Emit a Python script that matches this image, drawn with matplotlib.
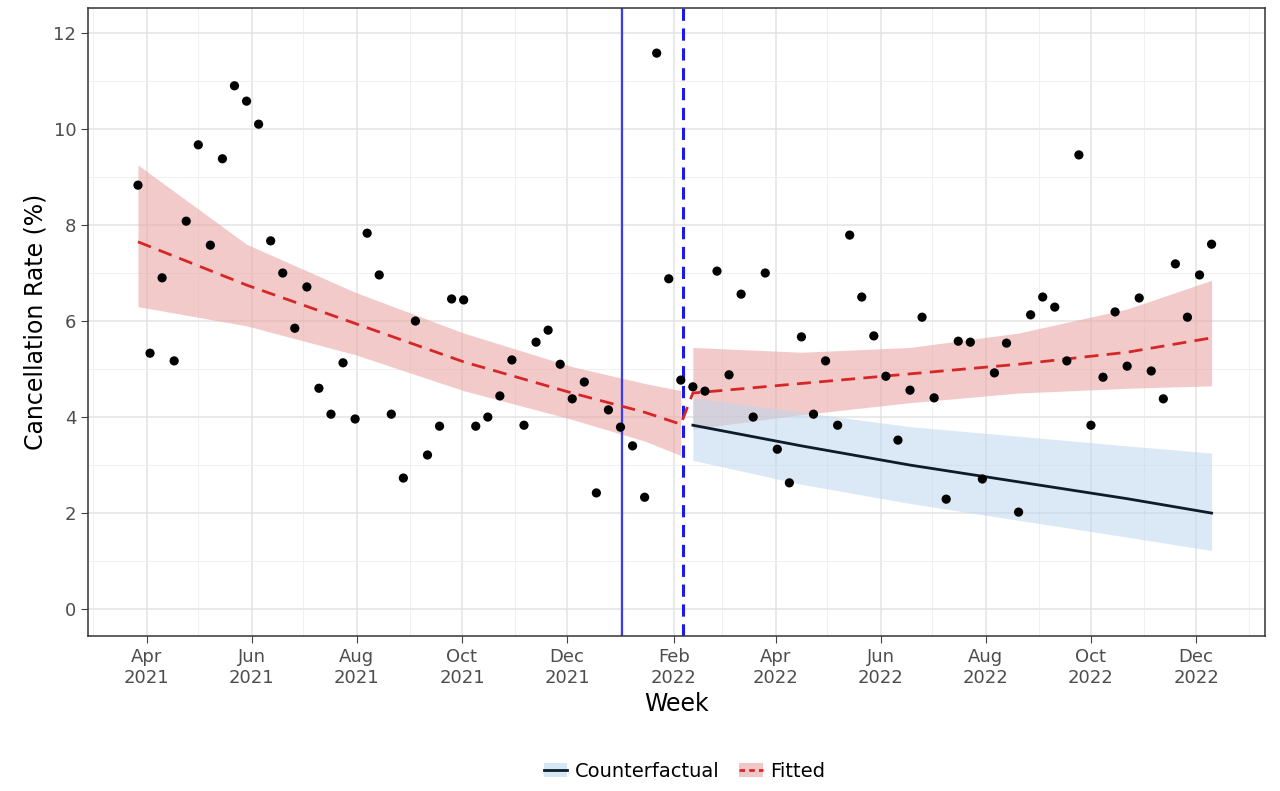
import numpy as np
import pandas as pd
import matplotlib
matplotlib.use("Agg")
import matplotlib.pyplot as plt
import matplotlib.dates as mdates
from matplotlib.patches import Patch
from matplotlib.lines import Line2D

# weekly cancellation rates (%), starting week of 2021-03-27
rates = [8.83, 5.33, 6.90, 5.17, 8.08, 9.67, 7.58, 9.38, 10.90, 10.58,
         10.10, 7.67, 7.00, 5.85, 6.71, 4.60, 4.06, 5.13, 3.96, 7.83,
         6.96, 4.06, 2.73, 6.00, 3.21, 3.81, 6.46, 6.44, 3.81, 4.00,
         4.44, 5.19, 3.83, 5.56, 5.81, 5.10, 4.38, 4.73, 2.42, 4.15,
         3.79, 3.40, 2.33, 11.58,
         6.88, 4.77, 4.63, 4.54, 7.04, 4.88, 6.56, 4.00, 7.00, 3.33,
         2.63, 5.67, 4.06, 5.17, 3.83, 7.79, 6.50, 5.69, 4.85, 3.52,
         4.56, 6.08, 4.40, 2.29, 5.58, 5.56, 2.71, 4.92, 5.54, 2.02,
         6.13, 6.50, 6.29, 5.17, 9.46, 3.83, 4.83, 6.19, 5.06, 6.48,
         4.96, 4.38, 7.19, 6.08, 6.96, 7.60]
weeks = pd.date_range("2021-03-27", periods=len(rates), freq="7D")

# fitted model before the intervention (week index, fit, lower, upper)
pre_idx = [0, 9, 18, 27, 36, 42, 45]
pre_fit = [7.65, 6.75, 5.95, 5.15, 4.50, 4.10, 3.85]
pre_lo = [6.30, 5.90, 5.30, 4.55, 3.95, 3.50, 3.20]
pre_hi = [9.25, 7.60, 6.60, 5.75, 5.05, 4.70, 4.55]

# after the intervention
post_idx = [46, 55, 64, 73, 82, 89]
post_fit = [4.50, 4.70, 4.90, 5.10, 5.35, 5.65]
post_lo = [3.75, 4.05, 4.30, 4.50, 4.60, 4.65]
post_hi = [5.45, 5.35, 5.45, 5.75, 6.25, 6.85]
cf_fit = [3.83, 3.40, 3.00, 2.65, 2.30, 2.00]
cf_lo = [3.10, 2.60, 2.20, 1.85, 1.50, 1.22]
cf_hi = [4.40, 4.10, 3.80, 3.60, 3.40, 3.25]

event_solid = pd.Timestamp("2022-01-02")
event_dashed = pd.Timestamp("2022-02-06")

RED = "#d62728"
BAND_RED = "#e8a0a0"
BAND_BLUE = "#bcd7ee"
NAVY = "#0d1b2a"

fig = plt.figure(figsize=(12.8, 7.91), dpi=100)
ax = fig.add_axes([88 / 1280, 1 - 636 / 791, (1265 - 88) / 1280, (636 - 8) / 791])

pre_d = weeks[pre_idx]
post_d = weeks[post_idx]
ax.fill_between(pre_d, pre_lo, pre_hi, color=BAND_RED, alpha=0.55, lw=0, zorder=1)
ax.fill_between(post_d, post_lo, post_hi, color=BAND_RED, alpha=0.55, lw=0, zorder=1)
ax.fill_between(post_d, cf_lo, cf_hi, color=BAND_BLUE, alpha=0.55, lw=0, zorder=1)
ax.plot(list(pre_d) + list(post_d), pre_fit + post_fit, color=RED, ls=(0, (5, 3)), lw=2, zorder=3)
ax.plot(post_d, cf_fit, color=NAVY, lw=2, zorder=3)

ax.axvline(event_solid, color="#3a3aff", lw=1.6, zorder=2)
ax.axvline(event_dashed, color="#1a1aee", lw=2.2, ls=(0, (4, 2.5)), zorder=2)

ax.scatter(weeks, rates, s=44, color="black", zorder=4, edgecolors="none")

ax.set_ylim(-0.56, 12.52)
ax.set_xlim(pd.Timestamp("2021-02-26"), pd.Timestamp("2023-01-10"))
ax.set_yticks(range(0, 13, 2))
ax.set_yticks(range(1, 13, 2), minor=True)
ax.xaxis.set_major_locator(mdates.MonthLocator(bymonth=[2, 4, 6, 8, 10, 12]))
ax.xaxis.set_major_formatter(mdates.DateFormatter("%b\n%Y"))
ax.xaxis.set_minor_locator(mdates.MonthLocator())
ax.grid(which="major", color="#e3e3e3", lw=1.1, zorder=0)
ax.grid(which="minor", color="#f0f0f0", lw=0.7, zorder=0)
ax.set_axisbelow(True)
for s in ax.spines.values():
    s.set_color("#333333")
    s.set_linewidth(1.1)
ax.tick_params(which="major", labelsize=13, colors="#444444", length=5)
ax.tick_params(which="minor", length=0)
for lab in ax.get_xticklabels() + ax.get_yticklabels():
    lab.set_color("#4d4d4d")
ax.set_xlabel("Week", fontsize=17)
ax.set_ylabel("Cancellation Rate (%)", fontsize=17)

handles = [
    (Patch(facecolor=BAND_BLUE, alpha=0.6), Line2D([], [], color=NAVY, lw=2)),
    (Patch(facecolor=BAND_RED, alpha=0.6), Line2D([], [], color=RED, lw=2, ls=(0, (2, 1.5)))),
]
fig.legend(handles, ["Counterfactual", "Fitted"], loc="center", bbox_to_anchor=(0.535, 0.025),
           ncol=2, frameon=False, fontsize=14, handlelength=1.2, columnspacing=1.0,
           handletextpad=0.4)

fig.savefig("out.png", dpi=100)
